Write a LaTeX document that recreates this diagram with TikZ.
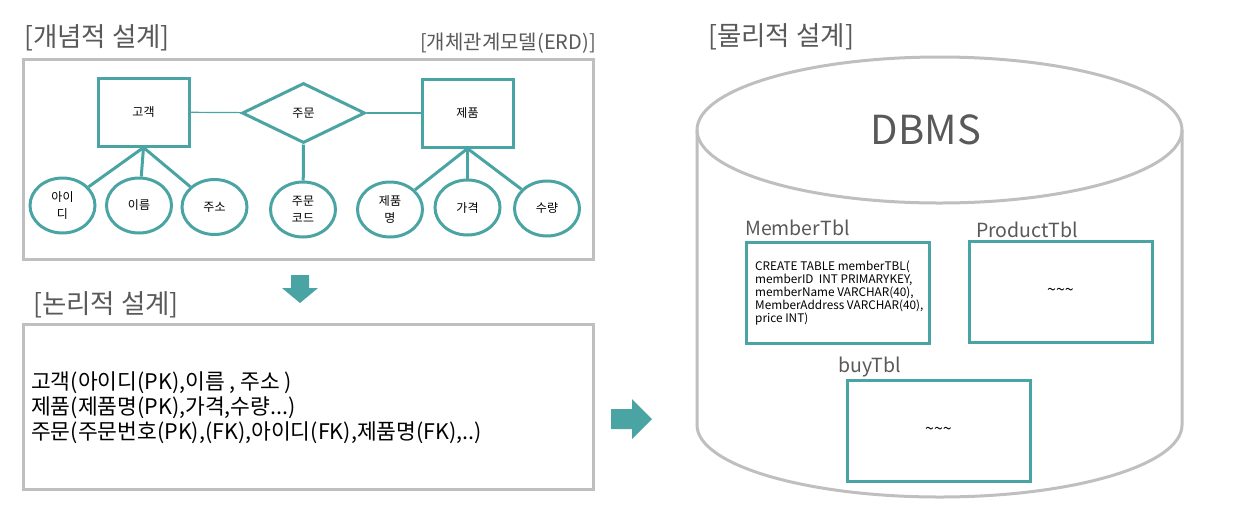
\documentclass[tikz,border=0pt]{standalone}
\usepackage{fontspec}
\setmainfont{Noto Sans CJK KR}
\usepackage{tikz}
\usetikzlibrary{shapes.geometric}
\usetikzlibrary{positioning}
\definecolor{erdteal}{RGB}{74,164,163}
\definecolor{boxgray}{RGB}{191,191,191}
\definecolor{titlegray}{RGB}{89,89,89}
\tikzset{entity/.style={rectangle,draw=erdteal,line width=3pt,minimum width=91pt,minimum height=68pt,inner sep=0pt,font=\fontsize{12}{14}\selectfont}}

\begin{document}
\begin{tikzpicture}[x=1pt,y=-1pt]
\tikzset{attrib/.style={ellipse,draw=erdteal,line width=3pt,minimum width=65pt,minimum height=55pt,inner sep=0pt,align=center,font=\fontsize{12}{17}\selectfont}}
\tikzset{relship/.style={diamond,draw=erdteal,line width=3pt,minimum width=123pt,minimum height=60pt,inner sep=0pt,font=\fontsize{12}{14}\selectfont}}
\tikzset{phase/.style={text=titlegray,inner sep=0pt,font=\fontsize{26.5}{28}\selectfont}}
\tikzset{panel/.style={draw=boxgray,line width=3pt,inner sep=0pt}}
\tikzset{tbl/.style={draw=erdteal,line width=3pt,minimum width=183pt,minimum height=101pt,inner sep=0pt,font=\fontsize{16}{16}\selectfont}}
\tikzset{tbllabel/.style={text=titlegray,inner sep=0pt,anchor=base west,font=\fontsize{19.5}{22}\selectfont}}

\useasboundingbox (0,0) rectangle (1247,531);

% titles
\node[phase, anchor=west] (tconcept) at (24,38) {[개념적 설계]};
\node[phase, anchor=east, font=\fontsize{20}{22}\selectfont] (terd) at (596,43) {[개체관계모델(ERD)]};
\node[phase, anchor=west] (tlogic) at (33,305) {[논리적 설계]};
\node[phase, anchor=west] (tphys) at (708,37) {[물리적 설계]};

\node[panel, minimum width=570pt, minimum height=200pt] (concept) at (308,159) {};
\node[panel, minimum width=570pt, minimum height=165pt] (logic) at (308,406.5) {};

% ERD
\node[entity] (gogaek) at (143.5,112) {고객};
\node[relship] (jumun) at (303.5,113) {주문};
\node[entity] (jepum) at (467.5,113) {제품};

\foreach \n / \x / \y / \txt in {a1/62.5/205.5/{아이\\디}, a2/139/205.5/{이름}, a3/214.5/207/{주소},
    a4/303/209.5/{주문\\코드}, a5/390/209.5/{제품\\명}, a6/467.5/207.5/{가격}, a7/547/208.5/{수량}} {
	\node[attrib] (\n) at (\x,\y) {\txt};
}

\draw[erdteal, line width=1.2pt] (gogaek) -- (jumun);
\draw[erdteal, line width=1.2pt] (jumun) -- (jepum);
\foreach \e / \a in {gogaek/a1, gogaek/a2, gogaek/a3, jumun/a4, jepum/a5, jepum/a6, jepum/a7} {
	\draw[erdteal, line width=3pt] (\e.south) -- (\a);
}

\fill[erdteal] (291,275) -- (309,275) -- (309,288) -- (318,288) -- (300,303) -- (282,288) -- (291,288) -- cycle;

\node[anchor=west, align=left, inner sep=0pt, font=\fontsize{21.5}{25}\selectfont] (ltext) at (31,408)
  {고객(아이디(PK),이름 , 주소 )\\제품(제품명(PK),가격,수량...)\\주문(주문번호(PK),(FK),아이디(FK),제품명(FK),..)};

\fill[erdteal] (611,409) -- (632,409) -- (632,399) -- (652,419) -- (632,439) -- (632,429) -- (611,429) -- cycle;

% DBMS
\draw[boxgray, line width=3pt] (697,130) -- (697,425) arc[start angle=180, end angle=0, x radius=242.5, y radius=72] -- (1182,130);
\draw[boxgray, line width=3pt] (939.5,130) ellipse [x radius=242.5, y radius=73];
\node[text=titlegray, inner sep=0pt, font=\fontsize{40}{44}\selectfont] (dbms) at (926,130) {DBMS};

\node[tbl] (member) at (837.5,293) {};
\node[tbl] (product) at (1060.5,292) {\textasciitilde\textasciitilde\textasciitilde};
\node[tbl] (buy) at (938.5,431) {\textasciitilde\textasciitilde\textasciitilde};
\node[tbllabel] (lmember) at (745,235) {MemberTbl};
\node[tbllabel] (lproduct) at (976,237) {ProductTbl};
\node[tbllabel] (lbuy) at (838,372) {buyTbl};
\node[anchor=north west, align=left, inner sep=0pt, font=\fontsize{11.8}{12.8}\selectfont] (msql) at (755,261)
  {CREATE TABLE memberTBL(\\memberID\ \ INT PRIMARYKEY,\\memberName VARCHAR(40),\\MemberAddress VARCHAR(40),\\price INT)};
\end{tikzpicture}
\end{document}
